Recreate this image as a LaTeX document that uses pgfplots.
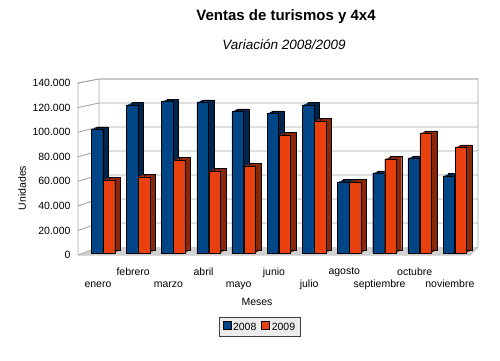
\documentclass[border=0pt]{standalone}
\usepackage{fontspec}
\setmainfont{Liberation Sans}
\usepackage{pgfplots}
\usepackage{pgfplotstable}
\pgfplotsset{compat=1.18}
\definecolor{bA}{HTML}{004586}
\definecolor{bB}{HTML}{00254C}
\definecolor{oA}{HTML}{E8400F}
\definecolor{oB}{HTML}{8A2708}
\pgfplotstableread{
x a b
0 100700 59400
1 120500 62100
2 123200 75700
3 122700 66700
4 115300 70800
5 113700 96000
6 120500 107400
7 57800 57800
8 64900 76500
9 77100 97400
10 62700 86000
}\data
\begin{document}
\begin{tikzpicture}
\path[use as bounding box] (0,0) rectangle (500pt,360pt);
% walls and floor
\fill[white] (99pt,113pt) rectangle (478pt,281pt);
\draw[gray!70, line width=0.7pt] (78pt,105pt) -- (78pt,277pt) -- (99pt,281pt) -- (478pt,281pt) -- (478pt,113pt);
\fill[gray!35] (78pt,105pt) -- (99pt,113pt) -- (478pt,113pt) -- (470pt,105pt) -- cycle;
\draw[gray!70, line width=0.5pt] (78pt,105pt) -- (470pt,105pt) -- (478pt,113pt);
\foreach \v in {1,...,7}{
  \pgfmathsetmacro{\fy}{105+24.571*\v}
  \pgfmathsetmacro{\by}{113+24*\v}
  \draw[gray!70, line width=0.9pt] (78pt,\fy pt) -- (99pt,\by pt) -- (478pt,\by pt);
}
\draw[gray!70, line width=0.7pt] (78pt,105pt) -- (99pt,113pt) -- (99pt,281pt);
\begin{axis}[
  at={(78pt,105pt)}, anchor=south west,
  scale only axis, width=392pt, height=172pt,
  xmin=-0.71, xmax=10.43, ymin=0, ymax=140000,
  clip=false,
  axis line style={draw=none}, tick style={draw=none},
  ytick={0,20000,...,140000},
  scaled y ticks=false,
  /pgf/number format/.cd, fixed, 1000 sep={.}, assume math mode=true,
  /pgfplots/.cd,
  yticklabel style={font=\fontsize{10.5}{12}\selectfont, xshift=-4pt},
  xtick={0,...,10},
  xticklabels={{\strut\\enero},{febrero\\\strut},{\strut\\marzo},{abril\\\strut},{\strut\\mayo},{junio\\\strut},{\strut\\julio},{agosto\\\strut},{\strut\\septiembre},{octubre\\\strut},{\strut\\noviembre}},
  xticklabel style={font=\fontsize{10.5}{12}\selectfont, align=center, xshift=-5pt, yshift=-9pt},
  legend style={at={(0.464,-0.419)}, anchor=center, legend columns=2,
    fill=gray!15, draw=gray!50!black, font=\fontsize{10.5}{12}\selectfont,
    inner xsep=3pt, inner ysep=3pt,
    /tikz/every even column/.append style={column sep=3pt}},
  legend image code/.code={\draw[#1,draw=black] (0pt,-3.5pt) rectangle (8pt,4.5pt);},
  shadowA/.style={ybar, bar width=11.5pt, bar shift=-6pt, fill=bB, draw=none, forget plot},
  shadowB/.style={ybar, bar width=11.5pt, bar shift=6pt, fill=oB, draw=none, forget plot},
]
\addplot[shadowA, xshift=1.5pt, yshift=2.7pt] table[x=x,y=a]{\data};
\addplot[shadowA, xshift=3pt, yshift=3.4pt] table[x=x,y=a]{\data};
\addplot[shadowA, xshift=4.5pt, yshift=4.1pt] table[x=x,y=a]{\data};
\addplot[shadowA, xshift=5.5pt, yshift=4.5pt, draw=black, line width=0.4pt] table[x=x,y=a]{\data};
\addplot[ybar, bar width=11.5pt, bar shift=-6pt, fill=bA, draw=black, line width=0.4pt, yshift=2pt] table[x=x,y=a]{\data};
\addlegendentry{2008}
\addplot[shadowB, xshift=1.5pt, yshift=2.7pt] table[x=x,y=b]{\data};
\addplot[shadowB, xshift=3pt, yshift=3.4pt] table[x=x,y=b]{\data};
\addplot[shadowB, xshift=4.5pt, yshift=4.1pt] table[x=x,y=b]{\data};
\addplot[shadowB, xshift=5.5pt, yshift=4.5pt, draw=black, line width=0.4pt] table[x=x,y=b]{\data};
\addplot[ybar, bar width=11.5pt, bar shift=6pt, fill=oA, draw=black, line width=0.4pt, yshift=2pt] table[x=x,y=b]{\data};
\addlegendentry{2009}
\end{axis}
\node[font=\bfseries\fontsize{15}{17}\selectfont] at (286pt,343pt) {Ventas de turismos y 4x4};
\node[font=\itshape\fontsize{13.5}{15}\selectfont] at (284pt,315pt) {Variación 2008/2009};
\node[font=\fontsize{10.5}{12}\selectfont] at (257pt,58pt) {Meses};
\node[font=\fontsize{10.5}{12}\selectfont, rotate=90] at (22pt,172pt) {Unidades};
\end{tikzpicture}
\end{document}
